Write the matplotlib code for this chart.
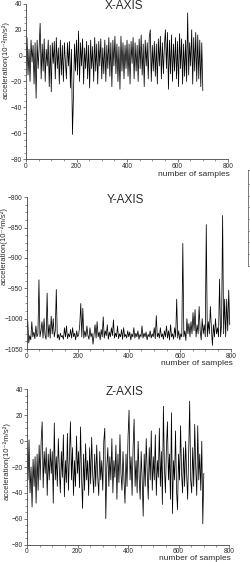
import numpy as np
import matplotlib.pyplot as plt
from matplotlib.ticker import AutoMinorLocator, MultipleLocator

plt.rcParams['font.family'] = ['Liberation Sans', 'DejaVu Sans']

# ── dados (amostras a cada 4) ────────────────────────────────────────────────
amostras_xz = np.arange(0, 704, 4)
amostras_y = np.arange(0, 800, 4)

acc_x = [
    -8, 14, -15, 5, -20, 12, -5, 8, -22, 10,
    -33, 12, -10, 6, 25, -18, 9, -12, 13, -20,
    5, -8, 12, -24, 8, -28, 10, -6, 11, -18,
    14, -10, 6, -22, 12, -15, 8, -20, 10, -5,
    -18, 10, -8, 11, -25, 5, -61, -30, 9, -12,
    12, -15, 19, -20, 10, -8, 13, -22, 6, -10,
    11, -18, 8, -25, 12, -10, 7, -20, 14, -12,
    9, -22, 11, -8, 13, -18, 6, -14, 12, -20,
    8, -10, 14, -16, 10, -24, 12, -8, 15, -14,
    9, -20, 7, -26, 15, -12, 10, -18, 8, -10,
    12, -16, 9, -22, 11, -6, 14, -18, 10, -12,
    8, -20, 13, -10, 16, -15, 9, -24, 12, -8,
    10, -18, 14, 20, -20, 8, -12, 11, -16, 9,
    -22, 13, -8, 15, -18, 10, -14, 8, 20, -10,
    18, -26, 12, -14, 16, -20, 9, -12, 14, -18,
    11, -24, 17, -10, 13, -22, 9, -16, 12, -20,
    33, -15, 10, -8, 20, -22, 14, -12, 18, -20,
    16, -18, 12, -24, 10, -27,
]

acc_y = [
    -1025, -1003, -1040, -1028, -1035, -1005, -1030, -1022, -1033, -1012,
    -1030, -1025, -936, -1030, -1020, -1005, -1032, -1000, -1028, -1034,
    -958, -1030, -1010, -1032, -996, -1025, -1000, -1030, -1020, -952,
    -1032, -1026, -1035, -1024, -1030, -1028, -1034, -1015, -1030, -1012,
    -1033, -1025, -1030, -1018, -1032, -1015, -1030, -1024, -1035, -1020,
    -1030, -1026, -1010, -975, -1030, -983, -1032, -1020, -1030, -1012,
    -1028, -1034, -1015, -1030, -1024, -1042, -1026, -1010, -1032, -1005,
    -1030, -1022, -1035, -1018, -1030, -997, -1032, -1020, -1028, -1010,
    -1034, -1022, -1030, -1015, -1028, -1002, -1032, -1024, -1030, -1012,
    -1033, -1025, -1030, -1018, -1034, -1015, -1030, -1026, -1032, -1020,
    -1030, -1022, -1035, -1025, -1030, -1015, -1032, -1024, -1030, -1020,
    -1034, -1026, -1030, -1012, -1032, -1024, -1030, -1022, -1035, -1026,
    -1030, -1020, -1032, -1025, -1030, -1015, -1033, -995, -1030, -1024,
    -1032, -1015, -1030, -1025, -1034, -1020, -1030, -1012, -1032, -1020,
    -1035, -1010, -1030, -1025, -1034, -1015, -1030, -968, -1032, -1020,
    -1035, -1025, -1030, -876, -1030, -1020, -1036, -1000, -1025, -1008,
    -1030, -1005, -1025, -990, -1020, -985, -1030, -1010, -1025, -980,
    -1020, -1035, -1000, -1025, -1010, -1030, -845, -1030, -1005, -1025,
    -980, -1015, -1044, -1010, -1030, -1000, -1025, -1015, -1030, -935,
    -1030, -1010, -830, -1025, -968, -1030, -968, -1020, -953, -1010,
]

acc_z = [
    -5, -30, 1, -40, -20, -51, -14, -35, -12, -48,
    -10, -38, -3, -30, 0, 15, -36, -8, -25, -5,
    -42, -10, -30, -6, -25, -8, -48, 14, -30, -12,
    -35, 2, -22, -40, -8, -28, 5, -43, -15, -32,
    6, -38, -12, 15, -30, -5, -42, -15, -35, 4,
    -25, -8, -36, 11, -28, -52, -10, -38, -2, -30,
    -15, -42, -5, -33, 3, -25, -40, -10, -35, -3,
    -28, -42, -8, -30, -15, -38, 0, 10, -60, -20,
    -5, -35, -12, -30, 2, -40, -15, -28, -3, -45,
    -10, -32, 5, -25, -38, -8, -30, -48, -10, -35,
    3, 24, -30, -12, -42, -5, 17, -35, -15, -40,
    0, -28, -45, -8, -30, -58, -10, -35, 2, -25,
    -45, -5, -30, 8, -38, -12, -30, 5, -42, -15,
    -28, 10, -35, -8, -49, 27, -20, -40, -5, 15,
    -30, -10, -45, 22, -56, -15, -30, 8, -38, -53,
    -10, -30, 12, -25, -40, -5, -35, 0, -25, -45,
    -10, 31, -30, -40, -5, -35, 13, -20, -42, 12,
    -30, -10, -38, 0, -64, -25,
]

# título, x, y, limites, passo, posição, rótulo y (x, y), y do rótulo x
paineis = [
    ('X-AXIS', amostras_xz, acc_x, (-80, 40), 20,
     [0.1036, 0.717, 0.805, 0.276], (-0.1, 0.64), -0.097),
    ('Y-AXIS', amostras_y, acc_y, (-1050, -800), 50,
     [0.1064, 0.379, 0.813, 0.270], (-0.112, 0.68), -0.095),
    ('Z-AXIS', amostras_xz, acc_z, (-80, 40), 20,
     [0.1076, 0.031, 0.805, 0.276], (-0.1, 0.54), -0.088),
]

COR_TXT = '#2a2a2a'
fig = plt.figure(figsize=(2.51, 5.62), dpi=100)

for titulo, xs, serie, ylim, passo, pos, ylab_xy, xlab_y in paineis:
    ax = fig.add_axes(pos)
    ax.plot(xs, serie, color='black', lw=0.55)
    ax.set_xlim(0, 800)
    ax.set_ylim(*ylim)
    ax.xaxis.set_major_locator(MultipleLocator(200))
    ax.yaxis.set_major_locator(MultipleLocator(passo))
    ax.xaxis.set_minor_locator(AutoMinorLocator(4))
    ax.yaxis.set_minor_locator(AutoMinorLocator(4))
    for s in ('top', 'right'):
        ax.spines[s].set_visible(False)
    for s in ('left', 'bottom'):
        ax.spines[s].set_linewidth(0.6)
        ax.spines[s].set_color('#444444')
    ax.tick_params(which='major', direction='out', length=2.5, width=0.5,
                   labelsize=4.8, pad=0.3, colors='#444444',
                   labelcolor=COR_TXT)
    ax.tick_params(which='minor', direction='out', length=1.3, width=0.4,
                   colors='#444444')
    ax.text(0.485, 0.985, titulo, transform=ax.transAxes, ha='center',
            va='center', fontsize=8.5, color=COR_TXT)
    ax.set_ylabel('acceleration(10⁻²m/s²)', fontsize=5.6,
                  color=COR_TXT, va='center')
    ax.yaxis.set_label_coords(*ylab_xy)
    ax.set_xlabel('number of samples', fontsize=6, color=COR_TXT,
                  ha='right', va='center')
    ax.xaxis.set_label_coords(1.01, xlab_y)

# eixo cortado na borda direita
ax_r = fig.add_axes([0.988, 0.527, 0.05, 0.171])
ax_r.set_xlim(0, 1)
ax_r.set_ylim(0, 8.2)
ax_r.set_xticks([])
ax_r.set_yticks(np.arange(0, 8))
ax_r.set_yticklabels([])
ax_r.tick_params(axis='y', direction='in', length=2.5, width=0.5,
                 colors='#666666')
for s in ('right', 'bottom'):
    ax_r.spines[s].set_visible(False)
for s in ('left', 'top'):
    ax_r.spines[s].set_linewidth(0.6)
    ax_r.spines[s].set_color('#666666')

fig.savefig('out.png', dpi=100)
